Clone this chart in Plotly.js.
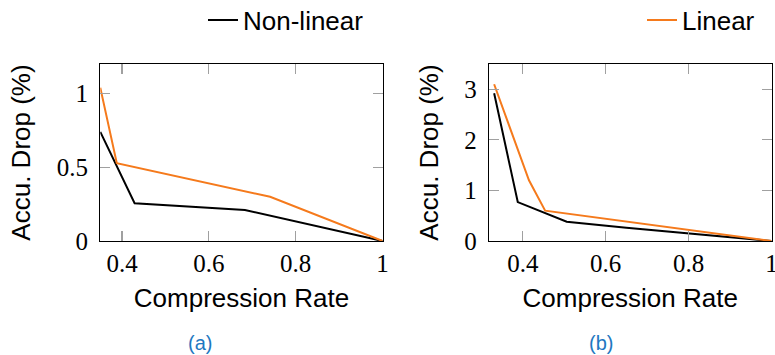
<!DOCTYPE html>
<html>
<head>
<meta charset="utf-8">
<script src="https://cdn.plot.ly/plotly-3.0.1.min.js"></script>
<style>
html,body{margin:0;padding:0;background:#fff;}
#chart{width:775px;height:355px;}
</style>
</head>
<body>
<div id="chart"></div>
<script>
// ---- data ----
const seriesNames = ["Non-linear", "Linear"];
const panelLabels = ["(a)", "(b)"];

// panel (a)
const aNonlinearX = [0.35, 0.429, 0.683, 1.0];
const aNonlinearY = [0.74, 0.256, 0.21, 0.0];
const aLinearX    = [0.35, 0.388, 0.741, 1.0];
const aLinearY    = [1.04, 0.527, 0.30, 0.0];

// panel (b)
const bNonlinearX = [0.331, 0.388, 0.506, 0.65, 1.0];
const bNonlinearY = [2.92, 0.77, 0.38, 0.26, 0.0];
const bLinearX    = [0.331, 0.415, 0.454, 1.0];
const bLinearY    = [3.10, 1.20, 0.60, 0.0];

const xTicks  = [0.4, 0.6, 0.8, 1];
const xTickText = ["0.4", "0.6", "0.8", "1"];
const aYTicks = [0, 0.5, 1];
const aYTickText = ["0", "0.5", "1"];
const bYTicks = [0, 1, 2, 3];
const bYTickText = ["0", "1", "2", "3"];

// ---- styling ----
const W = 775, H = 355;
const BLACK = "#000000", ORANGE = "#f57a1c", BLUE = "#1f78c1";
const SANS = "Liberation Sans, Arial, Helvetica, sans-serif";
const SERIF = "Liberation Serif, DejaVu Serif, Times New Roman, serif";

function line(x, y, name, color, xa, ya, legend, show) {
  return {x: x, y: y, name: name, type: "scatter", mode: "lines",
          line: {color: color, width: 2}, xaxis: xa, yaxis: ya,
          legend: legend, showlegend: show, hoverinfo: "skip"};
}

const data = [
  line(aNonlinearX, aNonlinearY, seriesNames[0], BLACK, "x", "y", "legend", true),
  line(aLinearX, aLinearY, seriesNames[1], ORANGE, "x", "y", "legend2", true),
  line(bNonlinearX, bNonlinearY, seriesNames[0], BLACK, "x2", "y2", "legend", false),
  line(bLinearX, bLinearY, seriesNames[1], ORANGE, "x2", "y2", "legend2", false)
];

function xAxis(domain, range, anchor) {
  return {domain: domain, range: range, anchor: anchor,
    tickvals: xTicks, ticktext: xTickText,
    ticks: "inside", ticklen: 10, tickwidth: 1.2, tickcolor: "#a0a0a0",
    showline: true, linecolor: BLACK, linewidth: 1.2, mirror: "allticks",
    showgrid: false, zeroline: false, ticklabeloverflow: "allow",
    tickfont: {family: SERIF, size: 25, color: BLACK},
    title: {text: "Compression Rate", font: {family: SANS, size: 26, color: BLACK}, standoff: 12},
    automargin: false, fixedrange: true};
}
function yAxis(range, tv, tt, anchor) {
  return {domain: [0, 1], range: range, anchor: anchor,
    tickvals: tv, ticktext: tt,
    ticks: "inside", ticklen: 10, tickwidth: 1.2, tickcolor: "#a0a0a0",
    showline: true, linecolor: BLACK, linewidth: 1.2, mirror: "allticks",
    showgrid: false, zeroline: false, ticklabelstandoff: 6, ticklabeloverflow: "allow",
    tickfont: {family: SERIF, size: 25, color: BLACK},
    title: {text: "Accu. Drop (%)", font: {family: SANS, size: 26, color: BLACK}, standoff: 18},
    automargin: false, fixedrange: true};
}

const layout = {
  width: W, height: H,
  margin: {l: 0, r: 0, t: 64, b: 114},
  paper_bgcolor: "#fff", plot_bgcolor: "#fff",
  font: {family: SANS, color: BLACK},
  xaxis: xAxis([100.3 / W, 382.6 / W], [0.35, 1], "y"),
  yaxis: yAxis([0, 1.2], aYTicks, aYTickText, "x"),
  xaxis2: xAxis([489 / W, 771.5 / W], [0.3186, 1], "y2"),
  yaxis2: yAxis([0, 3.5], bYTicks, bYTickText, "x2"),
  legend: {x: 203 / W, xref: "container", xanchor: "left", y: 1 - 20 / H, yref: "container", yanchor: "middle",
           orientation: "h", font: {family: SANS, size: 26, color: BLACK}, bgcolor: "rgba(0,0,0,0)", borderwidth: 0},
  legend2: {x: 642 / W, xref: "container", xanchor: "left", y: 1 - 20 / H, yref: "container", yanchor: "middle",
           orientation: "h", font: {family: SANS, size: 26, color: BLACK}, bgcolor: "rgba(0,0,0,0)", borderwidth: 0},
  annotations: [
    {text: panelLabels[0], xref: "paper", yref: "paper", x: 200 / W, y: (241 - 343) / 177,
     xanchor: "center", yanchor: "middle", showarrow: false, font: {family: SANS, size: 20, color: BLUE}},
    {text: panelLabels[1], xref: "paper", yref: "paper", x: 601 / W, y: (241 - 343) / 177,
     xanchor: "center", yanchor: "middle", showarrow: false, font: {family: SANS, size: 20, color: BLUE}}
  ],
  showlegend: true
};

Plotly.newPlot("chart", data, layout, {staticPlot: true, displayModeBar: false});
</script>
</body>
</html>
